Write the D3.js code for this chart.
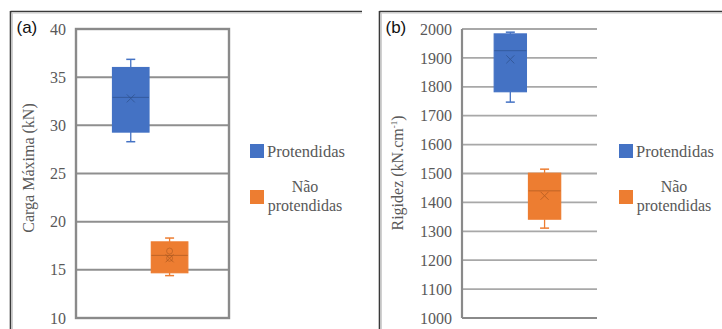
<!DOCTYPE html>
<html>
<head>
<meta charset="utf-8">
<script src="https://cdn.jsdelivr.net/npm/d3@7"></script>
<style>
  html, body { margin: 0; padding: 0; background: #fff; }
  svg { display: block; }
  .serif { font-family: "Liberation Serif", "Times New Roman", Times, serif; }
  .sans { font-family: "Liberation Sans", Arial, sans-serif; }
</style>
</head>
<body>
<svg id="chart" width="722" height="329"></svg>
<script>
// ---------- data ----------
const groups = ["Protendidas", "Não protendidas"];
const colors = ["#4472C4", "#ED7D31"];
const darkColors = ["#2F528F", "#AE5A21"];

// (a) Carga Máxima (kN)
const cargaTicks = [10, 15, 20, 25, 30, 35, 40];
const cargaMin = [28.3, 14.4];
const cargaQ1 = [29.3, 14.7];
const cargaMedian = [32.9, 16.5];
const cargaQ3 = [36.0, 17.9];
const cargaMax = [36.85, 18.3];
const cargaMean = [32.8, 16.2];
const cargaInner = [[], [16.95, 16.2]];

// (b) Rigidez (kN.cm-1)
const rigTicks = [1000, 1100, 1200, 1300, 1400, 1500, 1600, 1700, 1800, 1900, 2000];
const rigMin = [1747, 1311];
const rigQ1 = [1783, 1342];
const rigMedian = [1925, 1440];
const rigQ3 = [1983, 1501];
const rigMax = [1989, 1515];
const rigMean = [1895, 1423];
const rigInner = [[], []];

const svg = d3.select("#chart");
const textGray = "#595959";

function panel(cfg) {
  const g = svg.append("g");
  // outer panel frame
  g.append("line").attr("x1", cfg.frameX).attr("x2", cfg.frameRight)
    .attr("y1", 11.5).attr("y2", 11.5).attr("stroke", "#3a3a3a").attr("stroke-width", 1.6);
  g.append("line").attr("x1", cfg.frameX + 1).attr("x2", cfg.frameRight)
    .attr("y1", 13.5).attr("y2", 13.5).attr("stroke", "#e2e2e2").attr("stroke-width", 1);
  g.append("line").attr("x1", cfg.frameX).attr("x2", cfg.frameX)
    .attr("y1", 11).attr("y2", 329).attr("stroke", "#3a3a3a").attr("stroke-width", 1.6);
  g.append("line").attr("x1", cfg.frameX + 2).attr("x2", cfg.frameX + 2)
    .attr("y1", 13).attr("y2", 329).attr("stroke", "#d0d0d0").attr("stroke-width", 1);

  // panel label
  g.append("text").attr("class", "sans").attr("x", cfg.frameX + 6).attr("y", 33)
    .attr("font-size", 17).attr("fill", "#111").text(cfg.label);

  const y = d3.scaleLinear().domain(cfg.domain).range([318, 29]);
  const x = d3.scaleBand().domain(groups).range([cfg.left, cfg.right])
    .paddingInner(0.06).paddingOuter(1.0).align(0.47);

  // gridlines
  g.append("g").selectAll("line").data(cfg.ticks).join("line")
    .attr("x1", cfg.left).attr("x2", cfg.right)
    .attr("y1", d => y(d)).attr("y2", d => y(d))
    .attr("stroke", cfg.gridColor).attr("stroke-width", cfg.gridWidth);

  // axis with tick labels
  const axis = d3.axisLeft(y).tickValues(cfg.ticks).tickFormat(d3.format("d"))
    .tickSize(0).tickPadding(10);
  const ag = g.append("g").attr("transform", `translate(${cfg.left},0)`).call(axis);
  ag.attr("font-family", null).attr("font-size", null);
  ag.select(".domain").remove();
  ag.selectAll("text").attr("class", "serif").attr("font-size", cfg.tickSize)
    .attr("fill", textGray);

  // plot frame
  if (cfg.fullFrame) {
    g.append("rect").attr("x", cfg.left).attr("y", y(cfg.domain[1]))
      .attr("width", cfg.right - cfg.left).attr("height", y(cfg.domain[0]) - y(cfg.domain[1]))
      .attr("fill", "none").attr("stroke", "#8a8a8a").attr("stroke-width", 2.4);
  } else {
    g.append("line").attr("x1", cfg.left).attr("x2", cfg.left)
      .attr("y1", y(cfg.domain[1])).attr("y2", y(cfg.domain[0]))
      .attr("stroke", "#8a8a8a").attr("stroke-width", 2.2);
    g.append("line").attr("x1", cfg.left).attr("x2", cfg.right)
      .attr("y1", y(cfg.domain[0])).attr("y2", y(cfg.domain[0]))
      .attr("stroke", "#8a8a8a").attr("stroke-width", 2.2);
  }

  // y title
  g.append("text").attr("class", "serif")
    .attr("transform", `translate(${cfg.titleX},${cfg.titleY}) rotate(-90)`)
    .attr("text-anchor", "middle")
    .attr("font-size", cfg.titleSize).attr("fill", textGray)
    .call(t => {
      t.append("tspan").text(cfg.title);
      if (cfg.titleSup) {
        t.append("tspan").attr("font-size", 9).attr("dy", -6).text(cfg.titleSup);
        t.append("tspan").attr("dy", 6).text(")");
      }
    });

  // boxes
  const bw = x.bandwidth();
  const capW = 9;
  groups.forEach((grp, i) => {
    const cx = x(grp) + bw / 2;
    const bg = g.append("g");
    bg.append("line").attr("x1", cx).attr("x2", cx)
      .attr("y1", y(cfg.max[i])).attr("y2", y(cfg.q3[i]))
      .attr("stroke", colors[i]).attr("stroke-width", 1.3);
    bg.append("line").attr("x1", cx).attr("x2", cx)
      .attr("y1", y(cfg.q1[i])).attr("y2", y(cfg.min[i]))
      .attr("stroke", colors[i]).attr("stroke-width", 1.3);
    [cfg.max[i], cfg.min[i]].forEach(v => {
      bg.append("line").attr("x1", cx - capW / 2).attr("x2", cx + capW / 2)
        .attr("y1", y(v)).attr("y2", y(v))
        .attr("stroke", colors[i]).attr("stroke-width", 1.5);
    });
    bg.append("rect").attr("x", x(grp)).attr("y", y(cfg.q3[i]))
      .attr("width", bw).attr("height", y(cfg.q1[i]) - y(cfg.q3[i]))
      .attr("fill", colors[i]).attr("stroke", colors[i]).attr("stroke-width", 1.2);
    bg.append("line").attr("x1", x(grp)).attr("x2", x(grp) + bw)
      .attr("y1", y(cfg.median[i])).attr("y2", y(cfg.median[i]))
      .attr("stroke", darkColors[i]).attr("stroke-width", 1).attr("opacity", 0.7);
    const m = y(cfg.mean[i]), s = 4;
    bg.append("path")
      .attr("d", `M${cx - s},${m - s}L${cx + s},${m + s}M${cx - s},${m + s}L${cx + s},${m - s}`)
      .attr("stroke", darkColors[i]).attr("stroke-width", 1).attr("opacity", 0.75);
    cfg.inner[i].forEach(v => {
      bg.append("circle").attr("cx", cx).attr("cy", y(v)).attr("r", 3)
        .attr("fill", "none").attr("stroke", darkColors[i]).attr("stroke-width", 1).attr("opacity", 0.6);
    });
  });

  // legend
  const lg = g.append("g");
  lg.append("rect").attr("x", cfg.legX).attr("y", 144).attr("width", 14).attr("height", 14)
    .attr("fill", colors[0]);
  lg.append("text").attr("class", "serif").attr("x", cfg.legX + 17).attr("y", 157)
    .attr("font-size", 16.5).attr("fill", textGray).text(groups[0]);
  lg.append("rect").attr("x", cfg.legX).attr("y", 190).attr("width", 14).attr("height", 14)
    .attr("fill", colors[1]);
  const parts = groups[1].split(" ");
  lg.append("text").attr("class", "serif").attr("x", cfg.legX + 55).attr("y", 192)
    .attr("text-anchor", "middle").attr("font-size", 16).attr("fill", textGray).text(parts[0]);
  lg.append("text").attr("class", "serif").attr("x", cfg.legX + 55).attr("y", 210.5)
    .attr("text-anchor", "middle").attr("font-size", 16).attr("fill", textGray).text(parts[1]);
}

panel({
  label: "(a)", frameX: 10.5, frameRight: 362,
  left: 76, right: 229, domain: [10, 40], ticks: cargaTicks,
  min: cargaMin, q1: cargaQ1, median: cargaMedian, q3: cargaQ3, max: cargaMax,
  mean: cargaMean, inner: cargaInner,
  fullFrame: true, gridColor: "#8f8f8f", gridWidth: 2,
  tickSize: 16, title: "Carga Máxima (kN)", titleSize: 16, titleX: 34, titleY: 168,
  legX: 250
});

panel({
  label: "(b)", frameX: 379.5, frameRight: 722,
  left: 462, right: 597, domain: [1000, 2000], ticks: rigTicks,
  min: rigMin, q1: rigQ1, median: rigMedian, q3: rigQ3, max: rigMax,
  mean: rigMean, inner: rigInner,
  fullFrame: false, gridColor: "#a8a8a8", gridWidth: 1.8,
  tickSize: 16, title: "Rigidez (kN.cm", titleSup: "-1", titleSize: 16, titleX: 403, titleY: 173,
  legX: 619
});
</script>
</body>
</html>
